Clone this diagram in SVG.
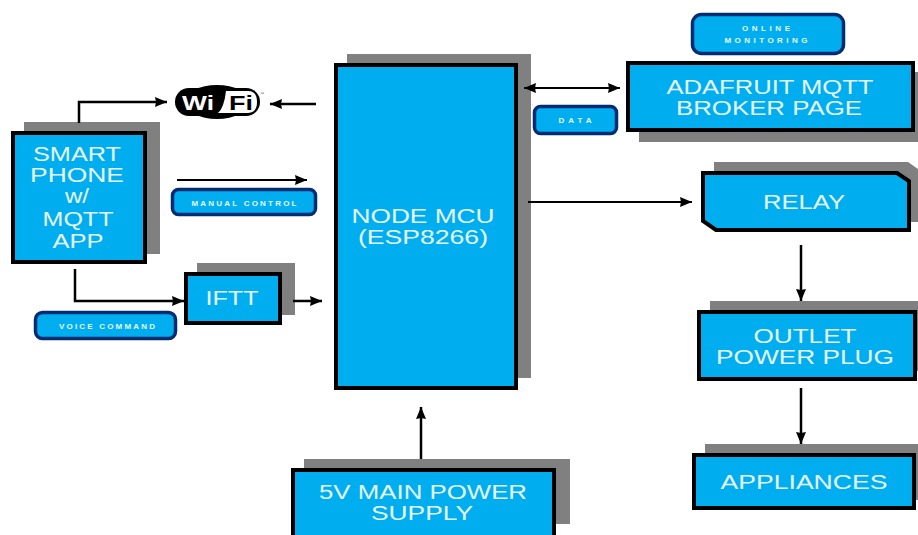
<svg xmlns="http://www.w3.org/2000/svg" width="918" height="535" viewBox="0 0 918 535">
<style>
.shadow{fill:#808080}
.box{fill:#00aeef;stroke:#000;stroke-width:4}
.pill{fill:#00aeef;stroke:#002c73;stroke-width:3.500}
.big{font-family:"Liberation Sans",Arial,sans-serif;font-size:20px;fill:#e6f7ff;text-anchor:middle}
.small{font-family:"Liberation Sans",Arial,sans-serif;font-size:8px;font-weight:bold;fill:#e6f7ff;text-anchor:middle}
.line{fill:none;stroke:#000;stroke-width:2.500}
.thin{fill:none;stroke:#000;stroke-width:2}
</style>
<defs>
<marker id="arr" markerUnits="userSpaceOnUse" markerWidth="13" markerHeight="12" refX="12" refY="6" orient="auto-start-reverse"><path d="M0 1L12 6L0 11L1 6Z" fill="#000"/></marker>
</defs>
<rect width="918" height="535" fill="#fff"/>
<g id="node-mcu"><rect class="shadow" x="347" y="54" width="184" height="324"/><rect class="box" x="336" y="65" width="180" height="323"/>
<text class="big" x="423" y="223" textLength="143" lengthAdjust="spacingAndGlyphs">NODE MCU</text><text class="big" x="423" y="244" textLength="130" lengthAdjust="spacingAndGlyphs">(ESP8266)</text></g>
<g id="smartphone"><rect class="shadow" x="24" y="122" width="136" height="132"/><rect class="box" x="13" y="133" width="132" height="129"/>
<text class="big" x="77" y="161" textLength="88" lengthAdjust="spacingAndGlyphs">SMART</text><text class="big" x="77" y="182" textLength="94" lengthAdjust="spacingAndGlyphs">PHONE</text><text class="big" x="77" y="203" textLength="24" lengthAdjust="spacingAndGlyphs">w/</text><text class="big" x="78" y="226" textLength="71" lengthAdjust="spacingAndGlyphs">MQTT</text><text class="big" x="78" y="248" textLength="51" lengthAdjust="spacingAndGlyphs">APP</text></g>
<g id="wifi"><ellipse cx="217" cy="102" rx="32" ry="17" fill="#000"/><rect x="175" y="88" width="85" height="28" rx="14" fill="#000"/><path d="M218 113Q224 108 226 91H248Q257 91 257 102Q257 113 248 113Z" fill="#fff"/>
<text x="198" y="110" font-family="Liberation Sans,Arial,sans-serif" font-size="21" font-weight="bold" fill="#fff" text-anchor="middle" textLength="32" lengthAdjust="spacingAndGlyphs">Wi</text><text x="241" y="110" font-family="Liberation Sans,Arial,sans-serif" font-size="21" font-weight="bold" fill="#000" text-anchor="middle" textLength="24" lengthAdjust="spacingAndGlyphs">Fi</text><text x="260" y="95" font-family="Liberation Sans,Arial,sans-serif" font-size="4" fill="#444">™</text></g>
<g id="manual-control"><rect class="pill" x="172.500" y="189.500" width="143" height="25" rx="6"/><text class="small" x="244" y="206" textLength="105" lengthAdjust="spacing">MANUAL CONTROL</text></g>
<g id="ifttt"><rect class="shadow" x="197" y="263" width="98" height="52"/><rect class="box" x="186" y="274" width="94" height="49"/><text class="big" x="232" y="305" textLength="53" lengthAdjust="spacingAndGlyphs">IFTT</text></g>
<g id="voice-command"><rect class="pill" x="35.500" y="312.500" width="140" height="26" rx="7"/><text class="small" x="107" y="329" textLength="96" lengthAdjust="spacing">VOICE COMMAND</text></g>
<g id="online-monitoring"><rect class="pill" x="692.500" y="14.500" width="151" height="39" rx="9"/><text class="small" x="766" y="31" textLength="48" lengthAdjust="spacing">ONLINE</text><text class="small" x="766" y="43" textLength="83" lengthAdjust="spacing">MONITORING</text></g>
<g id="data"><rect class="pill" x="534.500" y="106.500" width="82" height="27" rx="6"/><text class="small" x="575" y="123" textLength="33" lengthAdjust="spacing">DATA</text></g>
<g id="adafruit"><rect class="shadow" x="639" y="72" width="279" height="70"/><rect class="box" x="628" y="63" width="285" height="67"/><text class="big" x="770" y="94" textLength="207" lengthAdjust="spacingAndGlyphs">ADAFRUIT MQTT</text><text class="big" x="769" y="115" textLength="186" lengthAdjust="spacingAndGlyphs">BROKER PAGE</text></g>
<g id="relay"><path class="shadow" d="M714 162H908L918 169V222H714Z"/><path class="box" d="M703 173H897L909 181V230H716L703 221Z"/><text class="big" x="804" y="209" textLength="82" lengthAdjust="spacingAndGlyphs">RELAY</text></g>
<g id="outlet"><rect class="shadow" x="710" y="301" width="208" height="70"/><rect class="box" x="699" y="312" width="216" height="67"/><text class="big" x="805" y="343" textLength="103" lengthAdjust="spacingAndGlyphs">OUTLET</text><text class="big" x="805" y="364" textLength="178" lengthAdjust="spacingAndGlyphs">POWER PLUG</text></g>
<g id="appliances"><rect class="shadow" x="705" y="444" width="213" height="56"/><rect class="box" x="694" y="455" width="220" height="53"/><text class="big" x="804" y="489" textLength="167" lengthAdjust="spacingAndGlyphs">APPLIANCES</text></g>
<g id="power-supply"><rect class="shadow" x="304" y="459" width="266" height="65"/><rect class="box" x="293" y="470" width="261" height="67"/><text class="big" x="423" y="499" textLength="208" lengthAdjust="spacingAndGlyphs">5V MAIN POWER</text><text class="big" x="422" y="520" textLength="102" lengthAdjust="spacingAndGlyphs">SUPPLY</text></g>
<g id="connectors">
<path class="line" d="M79 123V102H167" marker-end="url(#arr)"/>
<path class="line" d="M316 104H270" marker-end="url(#arr)"/>
<path class="thin" d="M177 180H307" marker-end="url(#arr)"/>
<path class="line" d="M75 269V301H184" marker-end="url(#arr)"/>
<path class="line" d="M293 301H322" marker-end="url(#arr)"/>
<path class="thin" d="M524 88H620" marker-start="url(#arr)" marker-end="url(#arr)"/>
<path class="thin" d="M528 202H692" marker-end="url(#arr)"/>
<path class="line" d="M801 245V301" marker-end="url(#arr)"/>
<path class="line" d="M801 388V444" marker-end="url(#arr)"/>
<path class="line" d="M421 459V407" marker-end="url(#arr)"/>
</g>
</svg>
